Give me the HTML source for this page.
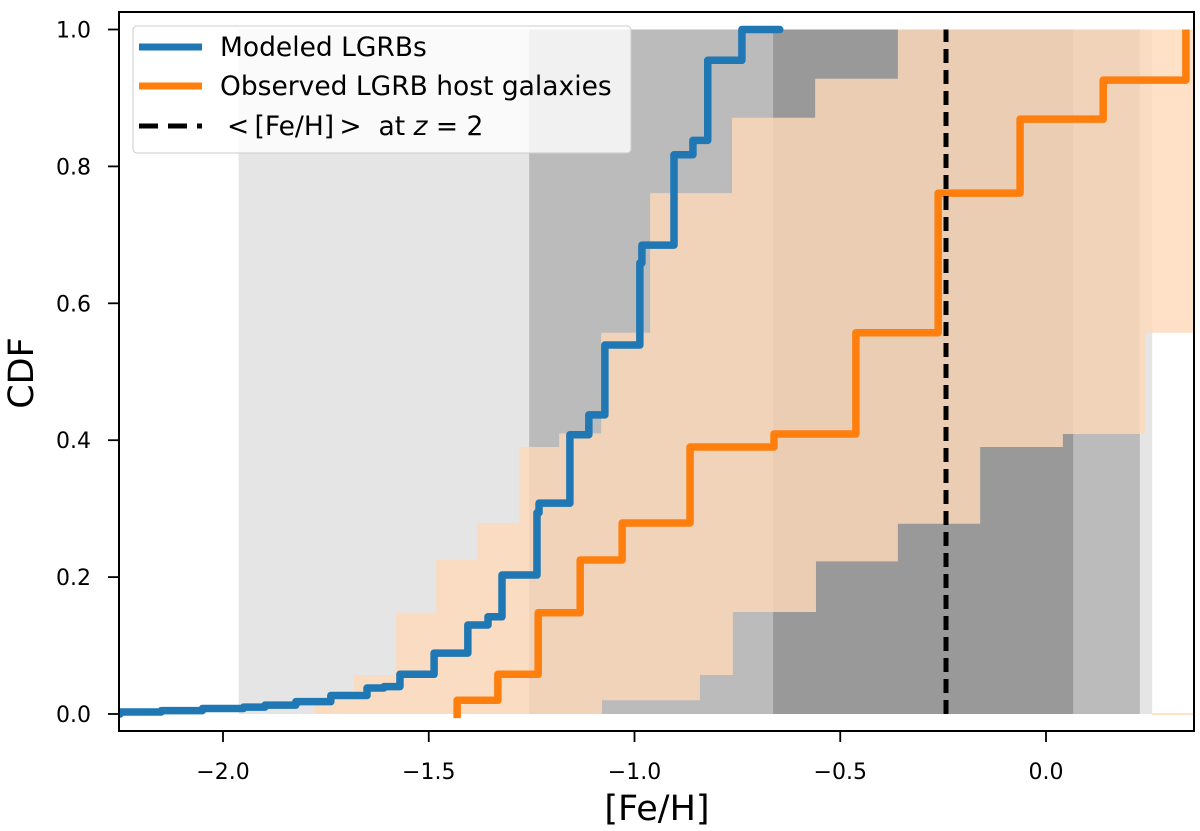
<!DOCTYPE html>
<html><head><meta charset="utf-8">
<style>
html,body{margin:0;padding:0;background:#fff;}
svg{display:block;font-family:"DejaVu Sans","Liberation Sans",sans-serif;}
</style></head>
<body>
<svg id="chart" width="1200" height="831" viewBox="0 0 1200 831">
  <defs><clipPath id="plotclip"><rect x="119" y="12" width="1075" height="719"/></clipPath></defs>
  <g id="bands" clip-path="url(#plotclip)"></g>
  <g id="lines" clip-path="url(#plotclip)"></g>
  <g id="axes"></g>
  <g id="legend"></g>
</svg>
<script>
// ---- data ----
const xTicks = [-2.0, -1.5, -1.0, -0.5, 0.0];
const xTickLabels = ["\u22122.0", "\u22121.5", "\u22121.0", "\u22120.5", "0.0"];
const yTicks = [0.0, 0.2, 0.4, 0.6, 0.8, 1.0];
const yTickLabels = ["0.0", "0.2", "0.4", "0.6", "0.8", "1.0"];

const modelStepX = [-2.25,-2.15,-2.05,-1.95,-1.898,-1.823,-1.738,-1.650,-1.609,-1.570,-1.487,-1.405,-1.356,-1.322,-1.237,-1.232,-1.157,-1.111,-1.072,-0.987,-0.982,-0.904,-0.858,-0.822,-0.739];
const modelStepY = [0.003,0.005,0.008,0.010,0.013,0.018,0.027,0.038,0.040,0.058,0.089,0.130,0.142,0.203,0.294,0.308,0.408,0.437,0.539,0.659,0.685,0.817,0.838,0.955,1.0];
const modelEndX = -0.647;

const obsStepX = [-1.431,-1.332,-1.234,-1.132,-1.030,-0.865,-0.661,-0.462,-0.262,-0.063,0.139,0.340];
const obsStepY = [0.02,0.058,0.148,0.225,0.279,0.39,0.409,0.557,0.761,0.869,0.926,1.0];

const obsUpperX = [-1.778,-1.682,-1.580,-1.482,-1.382,-1.280,-1.183,-1.081,-0.962,-0.763,-0.561,-0.360];
const obsUpperY = [0.02,0.057,0.148,0.225,0.279,0.39,0.41,0.557,0.761,0.871,0.928,1.0];
const obsLowerX = [-1.079,-0.841,-0.761,-0.559,-0.360,-0.160,0.041,0.241];
const obsLowerY = [0.02,0.057,0.149,0.223,0.278,0.39,0.409,0.557];

const grayOuter = [-1.962, 0.258];
const grayMid = [-1.256, 0.228];
const grayInner = [-0.663, 0.066];
const meanFeH = -0.243;

// ---- axes functions ----
const X0 = 1046, XS = 411.5, Y0 = 714, YS = 684.5;
const XMAX = 0.36;
function sx(v){ return X0 + XS * v; }
function sy(v){ return Y0 - YS * v; }
const NS = "http://www.w3.org/2000/svg";
function mk(tag, attrs, parent){
  const e = document.createElementNS(NS, tag);
  for (const k in attrs) e.setAttribute(k, attrs[k]);
  parent.appendChild(e);
  return e;
}
const bands = document.getElementById('bands');
const lines = document.getElementById('lines');
const axes = document.getElementById('axes');
const legend = document.getElementById('legend');

function grayRect(r, fill, name){
  const e = mk('rect', {x: sx(r[0]), y: sy(1), width: sx(r[1]) - sx(r[0]), height: sy(0) - sy(1), fill: fill}, bands);
  
  
}
grayRect(grayOuter, '#e5e5e5', 'gray-band-outer');
grayRect(grayMid, '#bbbbbb', 'gray-band-mid');
grayRect(grayInner, '#999999', 'gray-band-inner');

let pts = [[sx(obsUpperX[0]), sy(0)]];
for (let i = 0; i < obsUpperX.length; i++){
  const prevY = i === 0 ? 0 : obsUpperY[i-1];
  pts.push([sx(obsUpperX[i]), sy(prevY)]);
  pts.push([sx(obsUpperX[i]), sy(obsUpperY[i])]);
}
pts.push([sx(XMAX + 0.05), sy(obsUpperY[obsUpperY.length-1])]);
pts.push([sx(XMAX + 0.05), sy(obsLowerY[obsLowerY.length-1])]);
for (let i = obsLowerX.length - 1; i >= 0; i--){
  pts.push([sx(obsLowerX[i]), sy(obsLowerY[i])]);
  const prevY = i === 0 ? 0 : obsLowerY[i-1];
  pts.push([sx(obsLowerX[i]), sy(prevY)]);
}
const band = mk('polygon', {points: pts.map(p => p.join(',')).join(' '), fill: 'rgba(254,217,184,0.8)'}, bands);


const base = mk('line', {x1: sx(grayOuter[1]), x2: sx(XMAX + 0.05), y1: sy(0), y2: sy(0), stroke: 'rgba(254,217,184,0.8)', 'stroke-width': 2}, bands);



function stepPath(xs, ys, startY, endX){
  let d = 'M' + sx(xs[0]) + ',' + sy(startY);
  for (let i = 0; i < xs.length; i++){
    d += ' L' + sx(xs[i]) + ',' + sy(i === 0 ? startY : ys[i-1]);
    d += ' L' + sx(xs[i]) + ',' + sy(ys[i]);
  }
  d += ' L' + sx(endX) + ',' + sy(ys[ys.length-1]);
  return d;
}
const obsLine = mk('path', {d: stepPath(obsStepX, obsStepY, -0.006, obsStepX[obsStepX.length-1]), fill: 'none', stroke: '#ff7f0e', 'stroke-width': 7.5, 'stroke-linejoin': 'round'}, lines);


const modLine = mk('path', {d: stepPath(modelStepX, modelStepY, 0.0, modelEndX), fill: 'none', stroke: '#1f77b4', 'stroke-width': 7.5, 'stroke-linejoin': 'round', 'stroke-linecap': 'round'}, lines);


const mean = mk('line', {x1: sx(meanFeH), x2: sx(meanFeH), y1: sy(0), y2: sy(1), stroke: '#000', 'stroke-width': 5, 'stroke-dasharray': '14 7'}, lines);



const frame = mk('rect', {x: 119, y: 12, width: 1075, height: 719, fill: 'none', stroke: '#000', 'stroke-width': 2}, axes);


for (let i = 0; i < xTicks.length; i++){
  const x = sx(xTicks[i]);
  const t = mk('line', {x1: x, x2: x, y1: 731, y2: 742, stroke: '#000', 'stroke-width': 1.8}, axes);
  
  
  const l = mk('text', {x: x, y: 779, 'text-anchor': 'middle', 'font-size': 22, fill: '#000'}, axes);
  l.textContent = xTickLabels[i];
  
  
}
for (let i = 0; i < yTicks.length; i++){
  const y = sy(yTicks[i]);
  const t = mk('line', {x1: 108, x2: 119, y1: y, y2: y, stroke: '#000', 'stroke-width': 1.8}, axes);
  
  
  const l = mk('text', {x: 91, y: y + 8, 'text-anchor': 'end', 'font-size': 22, fill: '#000'}, axes);
  l.textContent = yTickLabels[i];
  
  
}
const xl = mk('text', {x: 657, y: 820, 'text-anchor': 'middle', 'font-size': 35, fill: '#000'}, axes);
xl.textContent = '[Fe/H]';


const yl = mk('text', {x: 0, y: 0, 'text-anchor': 'middle', 'font-size': 35, fill: '#000', transform: 'translate(33,373) rotate(-90)'}, axes);
yl.textContent = 'CDF';



const lb = mk('rect', {x: 133, y: 26, width: 498, height: 127, rx: 4, fill: 'rgba(255,255,255,0.8)', stroke: '#cccccc', 'stroke-width': 1}, legend);


const entries = [
  {y: 47, color: '#1f77b4', dash: null, text: 'Modeled LGRBs', name: 'legend-entry-modeled'},
  {y: 86, color: '#ff7f0e', dash: null, text: 'Observed LGRB host galaxies', name: 'legend-entry-observed'},
  {y: 126, color: '#000', dash: '19 10', text: '', name: 'legend-entry-mean'}
];
entries.forEach(en => {
  const a = {x1: 139, x2: 202, y1: en.y, y2: en.y, stroke: en.color, 'stroke-width': en.dash ? 5 : 7};
  if (en.dash) a['stroke-dasharray'] = en.dash;
  const ln = mk('line', a, legend);
  
  
  const t = mk('text', {x: 220, y: en.y + 9, 'font-size': 26.5, fill: '#000'}, legend);
  
  
  if (en.text) t.textContent = en.text;
  else {
    t.setAttribute('x', 227);
    t.innerHTML = '&lt;&#8201;[Fe/H]&#8201;&gt;&#160; at <tspan font-style="italic">z</tspan> = 2';
  }
});
</script>
</body></html>
